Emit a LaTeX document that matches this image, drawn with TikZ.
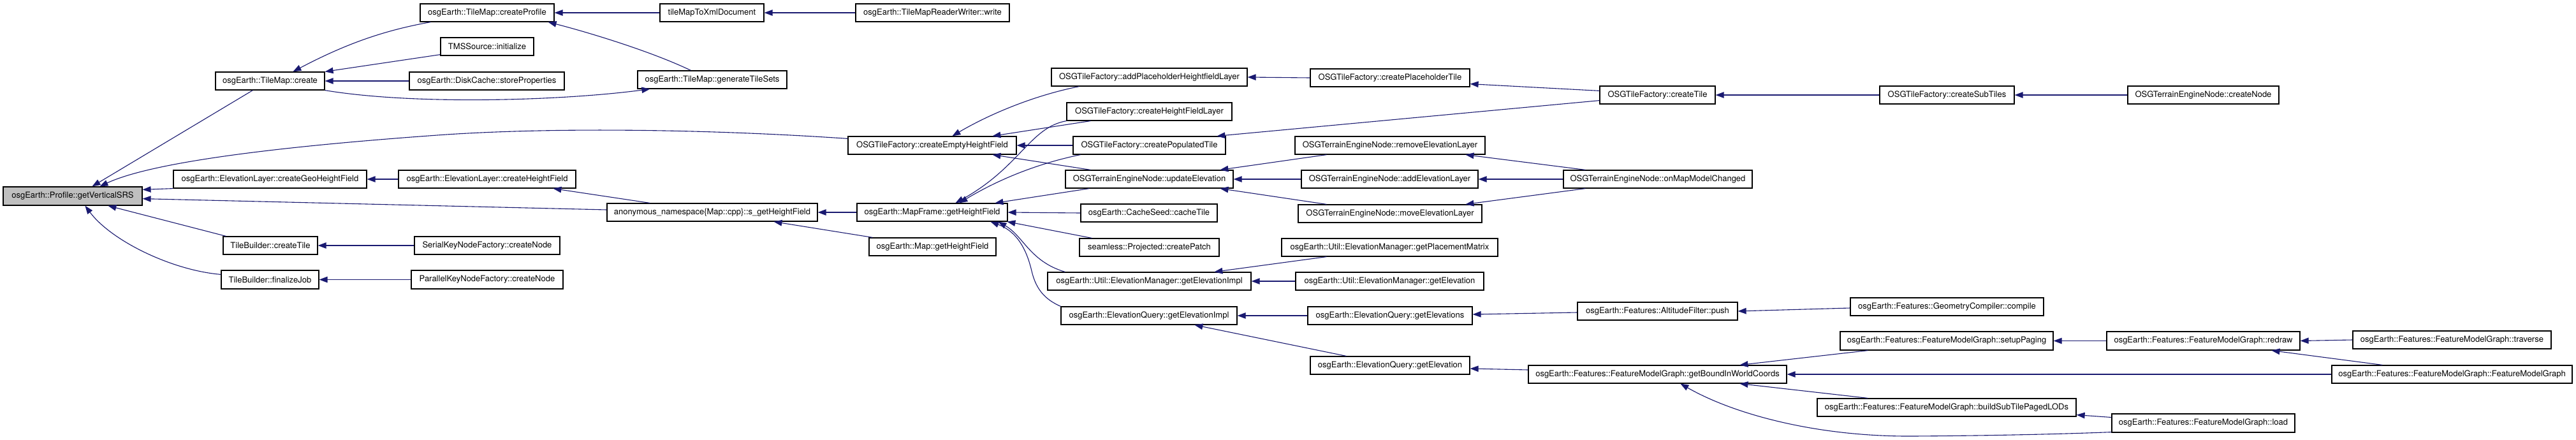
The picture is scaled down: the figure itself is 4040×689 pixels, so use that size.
\documentclass[tikz,border=0pt]{standalone}
\usepackage{fontspec}
\setmainfont{TeX Gyre Heros}
\usetikzlibrary{arrows.meta,calc}
\definecolor{edgecol}{HTML}{191970}
\definecolor{rootfill}{HTML}{BFBFBF}
\begin{document}
\begin{tikzpicture}[x=1pt,y=-1pt,
  box/.style={draw=black,line width=1.2pt,fill=white,rectangle,minimum height=28pt,inner sep=0pt,font=\fontsize{13}{15}\selectfont},
  rootbox/.style={box,fill=rootfill},
  edge/.style={draw=edgecol,line width=1.1pt,{Triangle[length=13pt,width=9.5pt,fill=edgecol]}-}]
\useasboundingbox (0,0) rectangle (4040,689);
% nodes
\node[rootbox,minimum width=218,minimum height=29] (root) at (114,307.5) {osgEarth::Profile::getVerticalSRS};
\node[box,minimum width=171] (create) at (423.5,127) {osgEarth::TileMap::create};
\node[box,minimum width=303] (createGeo) at (423.5,281) {osgEarth::ElevationLayer::createGeoHeightField};
\node[box,minimum width=148] (tbCreateTile) at (424,385) {TileBuilder::createTile};
\node[box,minimum width=153,minimum height=29] (tbFinalize) at (423.5,438.5) {TileBuilder::finalizeJob};
\node[box,minimum width=210] (createProfile) at (764,20) {osgEarth::TileMap::createProfile};
\node[box,minimum width=146] (tmsInit) at (764,73) {TMSSource::initialize};
\node[box,minimum width=243] (diskStore) at (763.5,127) {osgEarth::DiskCache::storeProperties};
\node[box,minimum width=278] (elevCreateHF) at (764,281) {osgEarth::ElevationLayer::createHeightField};
\node[box,minimum width=228] (serialNode) at (764,385) {SerialKeyNodeFactory::createNode};
\node[box,minimum width=238,minimum height=29] (parallelNode) at (764,438.5) {ParallelKeyNodeFactory::createNode};
\node[box,minimum width=163] (tileMapXml) at (1116.5,20) {tileMapToXmlDocument};
\node[box,minimum width=234] (genTileSets) at (1117,125) {osgEarth::TileMap::generateTileSets};
\node[box,minimum width=330] (sGetHF) at (1117,333) {anonymous\_namespace\{Map::cpp\}::s\_getHeightField};
\node[box,minimum width=241] (tmrwWrite) at (1462.5,20) {osgEarth::TileMapReaderWriter::write};
\node[box,minimum width=264] (createEmptyHF) at (1462,228) {OSGTileFactory::createEmptyHeightField};
\node[box,minimum width=236] (mapFrameGetHF) at (1462,333) {osgEarth::MapFrame::getHeightField};
\node[box,minimum width=199] (mapGetHF) at (1462.5,387) {osgEarth::Map::getHeightField};
\node[box,minimum width=307] (addPlaceholder) at (1802.5,121) {OSGTileFactory::addPlaceholderHeightfieldLayer};
\node[box,minimum width=259] (createHFLayer) at (1802.5,175) {OSGTileFactory::createHeightFieldLayer};
\node[box,minimum width=239] (createPopTile) at (1802.5,228) {OSGTileFactory::createPopulatedTile};
\node[box,minimum width=263] (updateElev) at (1802.5,281) {OSGTerrainEngineNode::updateElevation};
\node[box,minimum width=214] (cacheTile) at (1802,334) {osgEarth::CacheSeed::cacheTile};
\node[box,minimum width=219] (createPatch) at (1802.5,388) {seamless::Projected::createPatch};
\node[box,minimum width=319] (emGetElevImpl) at (1802.5,441) {osgEarth::Util::ElevationManager::getElevationImpl};
\node[box,minimum width=276] (eqGetElevImpl) at (1802,495) {osgEarth::ElevationQuery::getElevationImpl};
\node[box,minimum width=250] (createPlaceholderTile) at (2180,122) {OSGTileFactory::createPlaceholderTile};
\node[box,minimum width=298] (removeElev) at (2180,228) {OSGTerrainEngineNode::removeElevationLayer};
\node[box,minimum width=277] (addElev) at (2179.5,281) {OSGTerrainEngineNode::addElevationLayer};
\node[box,minimum width=288] (moveElev) at (2180,335) {OSGTerrainEngineNode::moveElevationLayer};
\node[box,minimum width=339] (placementMatrix) at (2179.5,388) {osgEarth::Util::ElevationManager::getPlacementMatrix};
\node[box,minimum width=295] (emGetElev) at (2179.5,441) {osgEarth::Util::ElevationManager::getElevation};
\node[box,minimum width=258] (eqGetElevs) at (2180,495) {osgEarth::ElevationQuery::getElevations};
\node[box,minimum width=250] (eqGetElev) at (2180,573) {osgEarth::ElevationQuery::getElevation};
\node[box,minimum width=181] (osgCreateTile) at (2599.5,149) {OSGTileFactory::createTile};
\node[box,minimum width=296] (onMapModel) at (2600,281) {OSGTerrainEngineNode::onMapModelChanged};
\node[box,minimum width=251] (altPush) at (2599.5,488) {osgEarth::Features::AltitudeFilter::push};
\node[box,minimum width=405] (getBound) at (2599.5,587) {osgEarth::Features::FeatureModelGraph::getBoundInWorldCoords};
\node[box,minimum width=211] (createSubTiles) at (3053.5,149) {OSGTileFactory::createSubTiles};
\node[box,minimum width=303] (compile) at (3053.5,481) {osgEarth::Features::GeometryCompiler::compile};
\node[box,minimum width=334,minimum height=29] (setupPaging) at (3053,534.5) {osgEarth::Features::FeatureModelGraph::setupPaging};
\node[box,minimum width=406] (buildSub) at (3053,639) {osgEarth::Features::FeatureModelGraph::buildSubTilePagedLODs};
\node[box,minimum width=237] (terrainCreateNode) at (3455.5,149) {OSGTerrainEngineNode::createNode};
\node[box,minimum width=303,minimum height=29] (redraw) at (3455.5,534.5) {osgEarth::Features::FeatureModelGraph::redraw};
\node[box,minimum width=287,minimum height=29] (load) at (3455.5,663.5) {osgEarth::Features::FeatureModelGraph::load};
\node[box,minimum width=311] (traverse) at (3845.5,533) {osgEarth::Features::FeatureModelGraph::traverse};
\node[box,minimum width=377] (fmgCtor) at (3845.5,587) {osgEarth::Features::FeatureModelGraph::FeatureModelGraph};
% edges (arrow tip at callee)
\draw[edge] ($(root.north west)+(140,0)$) -- ($(create.south west)+(59,0)$);
\draw[edge] ($(root.north west)+(152,0)$) .. controls (230,258) and (400,232) .. (700,211) .. controls (900,198) and (1150,205) .. ($(createEmptyHF.north west)+(0,4)$);
\draw[edge] ($(root.north east)+(0,5)$) -- (createGeo.south west);
\draw[edge] ($(root.south east)+(0,-11)$) -- ($(sGetHF.west)+(0,-4)$);
\draw[edge] ($(root.south west)+(165,0)$) -- ($(tbCreateTile.north west)+(5,0)$);
\draw[edge] ($(root.south west)+(129,0)$) .. controls (175,378) and (270,424) .. ($(tbFinalize.north west)+(0,7)$);
\draw[edge] ($(create.north west)+(122,0)$) .. controls (540,70) and (600,48) .. ($(createProfile.south west)+(17,0)$);
\draw[edge] (create.north east) -- ($(tmsInit.south west)+(0,-2)$);
\draw[edge] (create.east) -- (diskStore.west);
\draw[edge] ($(genTileSets.south west)+(20,0)$) .. controls (880,158) and (650,165) .. (create.south east);
\draw[edge] ($(createProfile.south east)+(-10,0)$) .. controls (920,50) and (1020,80) .. ($(genTileSets.north west)+(84,0)$);
\draw[edge] (createProfile.east) -- (tileMapXml.west);
\draw[edge] (tileMapXml.east) -- (tmrwWrite.west);
\draw[edge] (createGeo.east) -- (elevCreateHF.west);
\draw[edge] ($(elevCreateHF.south west)+(243,0)$) -- ($(sGetHF.north west)+(68,0)$);
\draw[edge] (sGetHF.east) -- (mapFrameGetHF.west);
\draw[edge] ($(sGetHF.south west)+(262,0)$) -- ($(mapGetHF.north west)+(6,0)$);
\draw[edge] (tbCreateTile.east) -- (serialNode.west);
\draw[edge] (tbFinalize.east) -- (parallelNode.west);
\draw[edge] ($(createEmptyHF.north west)+(164,0)$) .. controls (1550,180) and (1620,150) .. ($(addPlaceholder.south west)+(44,0)$);
\draw[edge] ($(createEmptyHF.north west)+(227,0)$) -- ($(createHFLayer.south west)+(38,0)$);
\draw[edge] (createEmptyHF.east) -- (createPopTile.west);
\draw[edge] ($(createEmptyHF.south west)+(227,0)$) -- ($(updateElev.north west)+(40,0)$);
\draw[edge] ($(mapFrameGetHF.north west)+(155,0)$) .. controls (1600,262) and (1615,200) .. (createHFLayer.south west);
\draw[edge] ($(mapFrameGetHF.north west)+(161,0)$) .. controls (1560,285) and (1620,258) .. ($(createPopTile.south west)+(12,0)$);
\draw[edge] ($(mapFrameGetHF.north west)+(217,0)$) -- ($(updateElev.south west)+(38,0)$);
\draw[edge] (mapFrameGetHF.east) -- (cacheTile.west);
\draw[edge] ($(mapFrameGetHF.south west)+(236,0)$) -- ($(createPatch.north west)+(20,0)$);
\draw[edge] ($(mapFrameGetHF.south west)+(222,0)$) .. controls (1605,370) and (1615,410) .. ($(emGetElevImpl.north west)+(28,0)$);
\draw[edge] ($(mapFrameGetHF.south west)+(210,0)$) .. controls (1600,365) and (1612,400) .. (1618,425) .. controls (1625,455) and (1640,470) .. (eqGetElevImpl.north west);
\draw[edge] ($(updateElev.north west)+(243,0)$) -- ($(removeElev.south west)+(50,0)$);
\draw[edge] (updateElev.east) -- (addElev.west);
\draw[edge] ($(updateElev.south west)+(243,0)$) -- ($(moveElev.north west)+(45,0)$);
\draw[edge] ($(removeElev.south west)+(268,0)$) -- ($(onMapModel.north west)+(35,0)$);
\draw[edge] (addElev.east) -- (onMapModel.west);
\draw[edge] ($(moveElev.north west)+(263,0)$) -- ($(onMapModel.south west)+(35,0)$);
\draw[edge] (addPlaceholder.east) -- (createPlaceholderTile.west);
\draw[edge] ($(createPlaceholderTile.south east)+(0,-5)$) -- ($(osgCreateTile.north west)+(0,8)$);
\draw[edge] ($(createPopTile.north west)+(226,0)$) -- ($(osgCreateTile.south west)+(0,-6)$);
\draw[edge] (osgCreateTile.east) -- (createSubTiles.west);
\draw[edge] (createSubTiles.east) -- (terrainCreateNode.west);
\draw[edge] ($(emGetElevImpl.north west)+(262,0)$) -- ($(placementMatrix.south west)+(71,0)$);
\draw[edge] (emGetElevImpl.east) -- (emGetElev.west);
\draw[edge] (eqGetElevImpl.east) -- (eqGetElevs.west);
\draw[edge] ($(eqGetElevImpl.south west)+(210,0)$) -- ($(eqGetElev.north west)+(57,0)$);
\draw[edge] ($(eqGetElevs.east)+(0,-2)$) -- ($(altPush.west)+(0,2)$);
\draw[edge] (altPush.east) -- ($(compile.west)+(0,2)$);
\draw[edge] ($(eqGetElev.east)+(0,5)$) -- ($(getBound.west)+(0,-7)$);
\draw[edge] ($(getBound.north west)+(332,0)$) -- ($(setupPaging.south west)+(44,0)$);
\draw[edge] (getBound.east) -- (fmgCtor.west);
\draw[edge] ($(getBound.south west)+(332,0)$) -- ($(buildSub.north west)+(80,0)$);
\draw[edge] ($(getBound.south west)+(239,0)$) .. controls (2720,650) and (2850,685) .. (3000,684) .. controls (3150,683) and (3250,680) .. ($(load.south west)+(0,-1)$);
\draw[edge] ($(buildSub.south east)+(0,-3)$) -- ($(load.west)+(0,-9)$);
\draw[edge] (setupPaging.east) -- (redraw.west);
\draw[edge] (redraw.east) -- (traverse.west);
\draw[edge] ($(redraw.south west)+(259,0)$) -- ($(fmgCtor.north west)+(80,0)$);
\end{tikzpicture}
\end{document}
